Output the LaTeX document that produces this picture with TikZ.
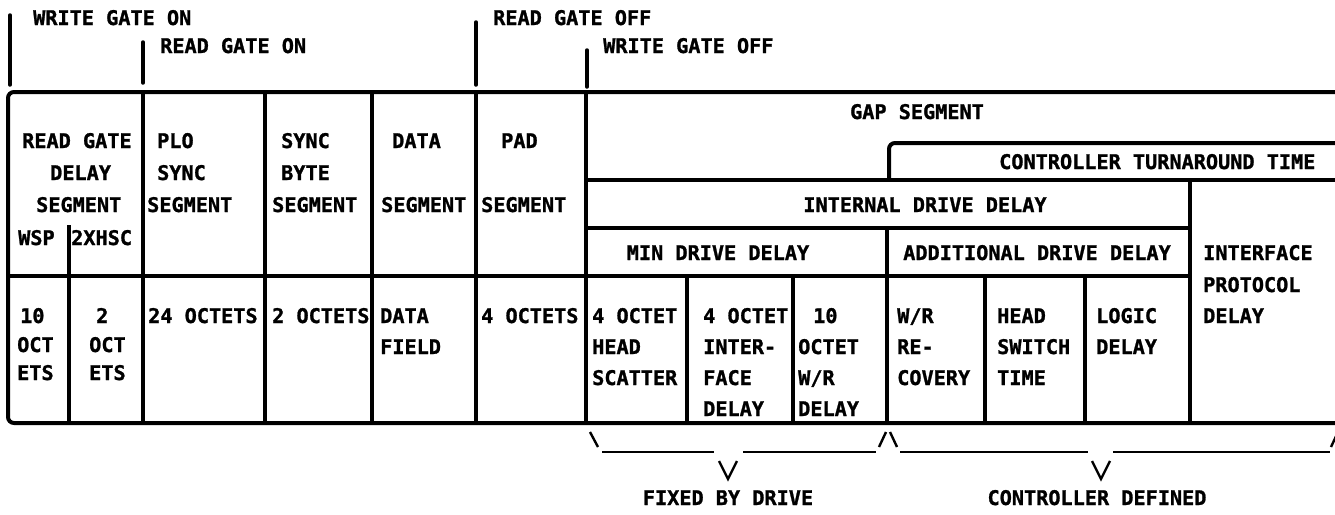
\documentclass[tikz,border=0pt]{standalone}
\usepackage{fontspec}
\newfontfamily\typfont{DejaVu Sans Mono}[FakeBold=1.2]
\newcommand\mylbl{\typfont\bfseries\fontsize{20.2}{24}\selectfont}
\begin{document}
\begin{tikzpicture}[x=1pt,y=-1pt,
  tbl/.style={line width=4pt},
  tickline/.style={line width=3.5pt,line cap=round},
  brc/.style={line width=2.4pt},
  txt/.style={anchor=base west,inner sep=0pt,font=\mylbl},
  ctxt/.style={anchor=base,inner sep=0pt,font=\mylbl}]
\useasboundingbox (0,0) rectangle (1335,514);
% ---- gate markers
\draw[tickline] (10,15) -- (10,85);
\draw[tickline] (143,42) -- (143,83);
\draw[tickline] (476,22) -- (476,85);
\draw[tickline] (587,50) -- (587,87);
\node[txt] (wgon)  at (33,25)  {WRITE GATE ON};
\node[txt] (rgon)  at (160,53) {READ GATE ON};
\node[txt] (rgoff) at (493,25) {READ GATE OFF};
\node[txt] (wgoff) at (603,53) {WRITE GATE OFF};
% ---- table frame
\draw[tbl,rounded corners=6pt] (1335,92) -- (8,92) -- (8,423) -- (1335,423);
\draw[tbl] (8,276) -- (1190,276);
\foreach \xx in {143,265,372,476,586} \draw[tbl] (\xx,92) -- (\xx,423);
\draw[tbl] (69,225) -- (69,423);
\draw[tbl] (586,180) -- (1335,180);
\draw[tbl] (586,228) -- (1190,228);
\draw[tbl] (1190,180) -- (1190,423);
\draw[tbl] (887,228) -- (887,423);
\draw[tbl,rounded corners=6pt] (889,180) -- (889,143) -- (1335,143);
\foreach \xx in {687,793,985,1085} \draw[tbl] (\xx,276) -- (\xx,423);
% ---- header texts
\node[txt] (rg1) at (22,148) {READ GATE};
\node[txt] (rg2) at (50,180) {DELAY};
\node[txt] (rg3) at (36,212) {SEGMENT};
\node[txt] (wsp) at (18,245) {WSP};
\node[txt] (hsc) at (71,245) {2XHSC};
\node[txt] (plo1) at (157,148) {PLO};
\node[txt] (plo2) at (157,180) {SYNC};
\node[txt] (plo3) at (147,212) {SEGMENT};
\node[txt] (sb1) at (281,148) {SYNC};
\node[txt] (sb2) at (281,180) {BYTE};
\node[txt] (sb3) at (272,212) {SEGMENT};
\node[txt] (ds1) at (392,148) {DATA};
\node[txt] (ds3) at (381,212) {SEGMENT};
\node[txt] (pd1) at (501,148) {PAD};
\node[txt] (pd3) at (481,212) {SEGMENT};
\node[ctxt] (gap) at (917,119) {GAP SEGMENT};
\node[txt] (ctt) at (999,169) {CONTROLLER TURNAROUND TIME};
\node[ctxt] (idd) at (925,212) {INTERNAL DRIVE DELAY};
\node[ctxt] (mdd) at (718,260) {MIN DRIVE DELAY};
\node[ctxt] (add) at (1037,260) {ADDITIONAL DRIVE DELAY};
\node[txt] (ipd1) at (1203,260) {INTERFACE};
\node[txt] (ipd2) at (1203,292) {PROTOCOL};
\node[txt] (ipd3) at (1203,323) {DELAY};
% ---- lower row texts
\node[txt] (a1) at (20,323) {10};
\node[txt] (a2) at (17,352) {OCT};
\node[txt] (a3) at (17,380) {ETS};
\node[txt] (b1) at (96,323) {2};
\node[txt] (b2) at (89,352) {OCT};
\node[txt] (b3) at (89,380) {ETS};
\node[txt] (c1) at (148,323) {24 OCTETS};
\node[txt] (d1) at (272,323) {2 OCTETS};
\node[txt] (e1) at (380,323) {DATA};
\node[txt] (e2) at (380,354) {FIELD};
\node[txt] (f1) at (481,323) {4 OCTETS};
\node[txt] (g1) at (592,323) {4 OCTET};
\node[txt] (g2) at (592,354) {HEAD};
\node[txt] (g3) at (592,385) {SCATTER};
\node[txt] (h1) at (703,323) {4 OCTET};
\node[txt] (h2) at (703,354) {INTER-};
\node[txt] (h3) at (703,385) {FACE};
\node[txt] (h4) at (703,416) {DELAY};
\node[txt] (i1) at (813,323) {10};
\node[txt] (i2) at (798,354) {OCTET};
\node[txt] (i3) at (798,385) {W/R};
\node[txt] (i4) at (798,416) {DELAY};
\node[txt] (j1) at (897,323) {W/R};
\node[txt] (j2) at (897,354) {RE-};
\node[txt] (j3) at (897,385) {COVERY};
\node[txt] (k1) at (997,323) {HEAD};
\node[txt] (k2) at (997,354) {SWITCH};
\node[txt] (k3) at (997,385) {TIME};
\node[txt] (l1) at (1096,323) {LOGIC};
\node[txt] (l2) at (1096,354) {DELAY};
% ---- braces
\draw[brc] (590,432) -- (598,447);
\draw[brc] (602,452) -- (714,452);
\draw[brc] (743,452) -- (876,452);
\draw[brc] (879,447) -- (886,432);
\draw[brc] (890,432) -- (897,447);
\draw[brc] (900,452) -- (1088,452);
\draw[brc] (1113,452) -- (1330,452);
\draw[brc] (1331,447) -- (1338,432);
\draw[brc] (719,461) -- (728,479) -- (737,461);
\draw[brc] (1092,461) -- (1101,479) -- (1110,461);
\node[ctxt] (fbd) at (728,505) {FIXED BY DRIVE};
\node[ctxt] (cdf) at (1097,505) {CONTROLLER DEFINED};
\end{tikzpicture}
\end{document}
